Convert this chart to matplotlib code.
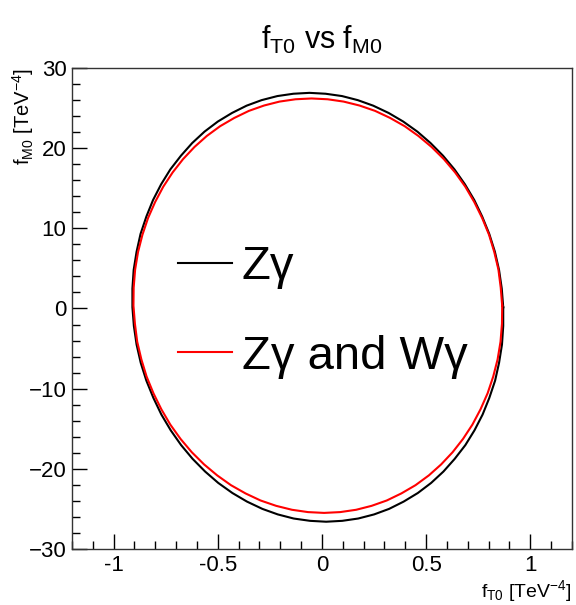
import numpy as np
import matplotlib
matplotlib.use('Agg')
import matplotlib.pyplot as plt
from matplotlib.ticker import MultipleLocator, FormatStrFormatter

plt.rcParams['font.family'] = ['Liberation Sans', 'DejaVu Sans']
plt.rcParams['mathtext.default'] = 'regular'

# contour points (f_T0, f_M0), going round counter-clockwise
zg_x = [0.870, 0.863, 0.850, 0.830, 0.803, 0.769, 0.731, 0.686, 0.636, 0.581,
        0.521, 0.458, 0.390, 0.320, 0.246, 0.172, 0.096, 0.017, -0.060, -0.137,
        -0.214, -0.290, -0.362, -0.432, -0.500, -0.564, -0.623, -0.677, -0.728,
        -0.772, -0.811, -0.843, -0.871, -0.890, -0.904, -0.910, -0.910, -0.903,
        -0.890, -0.870, -0.843, -0.809, -0.771, -0.726, -0.676, -0.621, -0.561,
        -0.498, -0.430, -0.360, -0.286, -0.212, -0.136, -0.057, 0.020, 0.097,
        0.174, 0.250, 0.322, 0.392, 0.460, 0.524, 0.583, 0.637, 0.688, 0.732,
        0.771, 0.803, 0.831, 0.850, 0.864, 0.870]
zg_y = [0.15, 2.48, 4.80, 7.08, 9.30, 11.47, 13.53, 15.50, 17.35, 19.06,
        20.64, 22.06, 23.32, 24.39, 25.30, 25.99, 26.50, 26.79, 26.90, 26.79,
        26.50, 25.99, 25.30, 24.39, 23.32, 22.06, 20.64, 19.06, 17.35,
        15.50, 13.53, 11.47, 9.30, 7.08, 4.80, 2.48, 0.15, -2.18,
        -4.50, -6.78, -9.00, -11.17, -13.23, -15.20, -17.05, -18.76, -20.34,
        -21.76, -23.02, -24.09, -25.00, -25.69, -26.20, -26.49, -26.60, -26.49,
        -26.20, -25.69, -25.00, -24.09, -23.02, -21.76, -20.34, -18.76, -17.05, -15.20,
        -13.23, -11.17, -9.00, -6.78, -4.50, -2.18]

zgwg_x = [0.865, 0.858, 0.847, 0.827, 0.802, 0.769, 0.731, 0.688, 0.639, 0.585,
          0.526, 0.463, 0.397, 0.327, 0.255, 0.180, 0.104, 0.027, -0.050, -0.127,
          -0.204, -0.278, -0.351, -0.421, -0.489, -0.553, -0.612, -0.667, -0.717,
          -0.762, -0.801, -0.835, -0.862, -0.883, -0.897, -0.904, -0.905, -0.898,
          -0.887, -0.867, -0.842, -0.809, -0.771, -0.728, -0.679, -0.625, -0.566,
          -0.503, -0.437, -0.367, -0.295, -0.220, -0.144, -0.067, 0.010, 0.087,
          0.164, 0.238, 0.311, 0.381, 0.449, 0.513, 0.572, 0.627, 0.677, 0.722,
          0.761, 0.795, 0.822, 0.843, 0.857, 0.864]
zgwg_y = [0.35, 2.60, 4.85, 7.05, 9.19, 11.28, 13.28, 15.19, 16.97, 18.63,
          20.15, 21.52, 22.74, 23.77, 24.65, 25.32, 25.81, 26.10, 26.20, 26.10,
          25.81, 25.32, 24.65, 23.77, 22.74, 21.52, 20.15, 18.63, 16.97,
          15.19, 13.28, 11.28, 9.19, 7.05, 4.85, 2.60, 0.35, -1.90,
          -4.15, -6.35, -8.49, -10.58, -12.58, -14.49, -16.27, -17.93, -19.45,
          -20.82, -22.04, -23.07, -23.95, -24.62, -25.11, -25.40, -25.50, -25.40,
          -25.11, -24.62, -23.95, -23.07, -22.04, -20.82, -19.45, -17.93, -16.27, -14.49,
          -12.58, -10.58, -8.49, -6.35, -4.15, -1.90]

fig = plt.figure(figsize=(5.76, 6.05), dpi=100)
ax = fig.add_axes([0.125, 0.0926, 0.868, 0.795])

ax.plot(zg_x + zg_x[:1], zg_y + zg_y[:1], color='black', lw=1.5, label='Z\u03b3')
ax.plot(zgwg_x + zgwg_x[:1], zgwg_y + zgwg_y[:1], color='red', lw=1.5,
        label='Z\u03b3 and W\u03b3')

ax.set_xlim(-1.2, 1.2)
ax.set_ylim(-30, 30)
ax.xaxis.set_major_locator(MultipleLocator(0.5))
ax.xaxis.set_minor_locator(MultipleLocator(0.1))
ax.xaxis.set_major_formatter(FormatStrFormatter('%g'))
ax.yaxis.set_major_locator(MultipleLocator(10))
ax.yaxis.set_minor_locator(MultipleLocator(2))
ax.tick_params(which='both', direction='in', top=False, right=False, labelsize=16)
ax.tick_params(which='major', length=11, width=1)
ax.tick_params(which='minor', length=6, width=1)
ax.tick_params(axis='x', pad=4)
ax.tick_params(axis='y', pad=4)
for sp in ax.spines.values():
    sp.set_color('#333333')
    sp.set_linewidth(1)

ax.legend(loc='center left', bbox_to_anchor=(0.309, 0.4843),
          bbox_transform=fig.transFigure, frameon=False, fontsize=34,
          handlelength=1.15, handletextpad=0.2, labelspacing=0.96,
          borderpad=0, borderaxespad=0)

fig.text(0.559, 0.934, r'$f_{T0}$ vs $f_{M0}$', ha='center', va='center', fontsize=22)
fig.text(0.993, 0.002, r'$f_{T0}$ [TeV$^{-4}$]', ha='right', va='bottom', fontsize=14)
fig.text(0.018, 0.888, r'$f_{M0}$ [TeV$^{-4}$]', ha='left', va='top', rotation=90,
         fontsize=14.5)

fig.savefig('out.png', dpi=100)
